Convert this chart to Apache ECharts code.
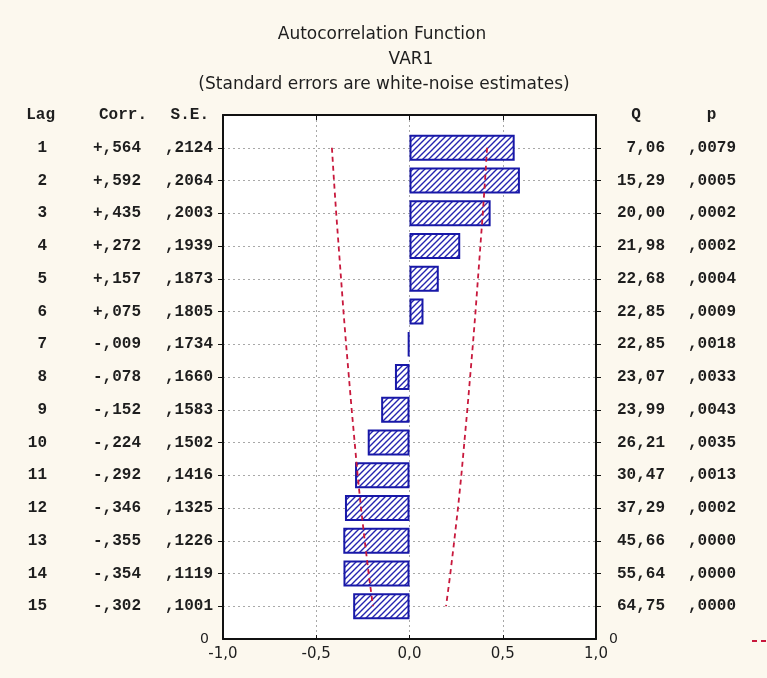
<!DOCTYPE html>
<html>
<head>
<meta charset="utf-8">
<script src="https://cdn.jsdelivr.net/npm/echarts@6/dist/echarts.min.js"></script>
<style>
  html, body { margin: 0; padding: 0; background: #fcf8ee; }
  #chart { width: 767px; height: 678px; }
</style>
</head>
<body>
<div id="chart"></div>
<script>
// Autocorrelation function of VAR1, lags 1..15
const lags = [1, 2, 3, 4, 5, 6, 7, 8, 9, 10, 11, 12, 13, 14, 15];
const corr = [0.564, 0.592, 0.435, 0.272, 0.157, 0.075, -0.009, -0.078, -0.152, -0.224, -0.292, -0.346, -0.355, -0.354, -0.302];
const corrText = ['+,564', '+,592', '+,435', '+,272', '+,157', '+,075', '-,009', '-,078', '-,152', '-,224', '-,292', '-,346', '-,355', '-,354', '-,302'];
const seText = [',2124', ',2064', ',2003', ',1939', ',1873', ',1805', ',1734', ',1660', ',1583', ',1502', ',1416', ',1325', ',1226', ',1119', ',1001'];
const qText = ['7,06', '15,29', '20,00', '21,98', '22,68', '22,85', '22,85', '23,07', '23,99', '26,21', '30,47', '37,29', '45,66', '55,64', '64,75'];
const pText = [',0079', ',0005', ',0002', ',0002', ',0004', ',0009', ',0018', ',0033', ',0043', ',0035', ',0013', ',0002', ',0000', ',0000', ',0000'];
// white-noise confidence limits (1.96 * S.E.)
const limit = [0.416, 0.405, 0.393, 0.380, 0.367, 0.354, 0.340, 0.325, 0.310, 0.294, 0.278, 0.260, 0.240, 0.219, 0.196];
const xTicks = ['-1,0', '-0,5', '0,0', '0,5', '1,0'];

// y categories: header row, lags, trailing zero row
const rows = ['hdr'].concat(lags.map(String)).concat(['end']);

// diagonal hatch fill for the bars
function hatch() {
  const s = 6;
  const c = document.createElement('canvas');
  c.width = s; c.height = s;
  const g = c.getContext('2d');
  g.fillStyle = '#ffffff';
  g.fillRect(0, 0, s, s);
  g.strokeStyle = '#2424b0';
  g.lineWidth = 1.4;
  g.beginPath();
  g.moveTo(-1, s + 1); g.lineTo(s + 1, -1);
  g.moveTo(-1, 1); g.lineTo(1, -1);
  g.moveTo(s - 1, s + 1); g.lineTo(s + 1, s - 1);
  g.stroke();
  return c;
}

const mono = '"Liberation Mono", "DejaVu Sans Mono", monospace';
const sans = '"DejaVu Sans", "Liberation Sans", sans-serif';
const ink = '#1e1e1e';
const cell = (w, a, extra) => Object.assign({ width: w, align: a, fontFamily: mono, fontWeight: 'bold', fontSize: 16, color: ink }, extra || {});

const leftRich = {
  lag: cell(40, 'right'),
  corr: cell(94, 'right'),
  se: cell(72, 'right'),
  hlag: cell(48, 'right'),
  hcorr: cell(92, 'right'),
  hse: cell(62, 'right', { padding: [0, 4, 0, 0] }),
  zero: { fontFamily: sans, fontSize: 14, color: ink, padding: [0, 4, 0, 0] }
};
const rightRich = {
  q: cell(59, 'right'),
  p: cell(71, 'right'),
  hq: cell(60, 'center'),
  hp: cell(71, 'left', { padding: [0, 0, 0, 10] }),
  zero: { fontFamily: sans, fontSize: 14, color: ink, padding: [0, 0, 0, 3] }
};

const barData = rows.map((r, i) => (i >= 1 && i <= lags.length) ? corr[i - 1] : '-');
const lowLine = lags.map((l, i) => [-limit[i], String(l)]);
const highLine = lags.map((l, i) => [limit[i], String(l)]);

const dotted = { show: true, lineStyle: { color: '#a8a8a8', type: [2, 3], width: 1 } };
const frame = { show: true, onZero: false, lineStyle: { color: '#111', width: 2 } };
const tickOn = (i) => i >= 1 && i <= lags.length;

const chart = echarts.init(document.getElementById('chart'), null, { renderer: 'canvas' });
chart.setOption({
  backgroundColor: '#fcf8ee',
  animation: false,
  title: [
    { text: 'Autocorrelation Function', left: 377, top: 21, textAlign: 'center',
      textStyle: { fontFamily: sans, fontWeight: 'normal', fontSize: 17, color: ink } },
    { text: 'VAR1', left: 406, top: 46, textAlign: 'center',
      textStyle: { fontFamily: sans, fontWeight: 'normal', fontSize: 17, color: ink } },
    { text: '(Standard errors are white-noise estimates)', left: 379, top: 71, textAlign: 'center',
      textStyle: { fontFamily: sans, fontWeight: 'normal', fontSize: 17, color: ink } }
  ],
  grid: { left: 223, right: 171, top: 115, bottom: 39, containLabel: false,
          show: true, backgroundColor: '#ffffff', borderWidth: 0 },
  xAxis: [
    { type: 'value', position: 'bottom', min: -1, max: 1, interval: 0.5,
      axisLine: frame, axisTick: { show: true, inside: true, length: 4, lineStyle: { color: '#111' } },
      splitLine: dotted,
      axisLabel: { margin: 8, fontFamily: sans, fontSize: 15, color: ink,
        formatter: (v) => xTicks[Math.round((v + 1) / 0.5)] } },
    { type: 'value', position: 'top', min: -1, max: 1, interval: 0.5,
      axisLine: frame, axisTick: { show: true, inside: true, length: 5, lineStyle: { color: '#111' } },
      splitLine: { show: false }, axisLabel: { show: false } }
  ],
  yAxis: [
    { type: 'category', position: 'left', data: rows, inverse: true, boundaryGap: false,
      axisLine: frame,
      axisTick: { show: true, inside: false, length: 5, interval: tickOn, lineStyle: { color: '#111' } },
      splitLine: Object.assign({ interval: 0 }, dotted),
      axisLabel: { interval: 0, margin: 10, align: 'right', rich: leftRich,
        formatter: (v, i) => {
          if (i === 0) return '{hlag|Lag}{hcorr|Corr.}{hse|S.E.}';
          if (i === rows.length - 1) return '{zero|0}';
          return '{lag|' + v + '}{corr|' + corrText[i - 1] + '}{se|' + seText[i - 1] + '}';
        } } },
    { type: 'category', position: 'right', data: rows, inverse: true, boundaryGap: false,
      axisLine: frame,
      axisTick: { show: true, inside: false, length: 5, interval: tickOn, lineStyle: { color: '#111' } },
      splitLine: { show: false },
      axisLabel: { interval: 0, margin: 10, align: 'left', rich: rightRich,
        formatter: (v, i) => {
          if (i === 0) return '{hq|Q}{hp|p}';
          if (i === rows.length - 1) return '{zero|0}';
          return '{q|' + qText[i - 1] + '}{p|' + pText[i - 1] + '}';
        } } }
  ],
  series: [
    { name: 'Corr.', type: 'bar', xAxisIndex: 0, yAxisIndex: 0, data: barData, barWidth: 26,
      itemStyle: { color: { image: hatch(), repeat: 'repeat' }, borderColor: '#1818a8', borderWidth: 2 },
      z: 3 },
    { name: 'Conf. limit', type: 'line', xAxisIndex: 0, yAxisIndex: 0, data: lowLine, symbol: 'none',
      lineStyle: { color: '#c8183c', width: 1.8, type: [5, 4] }, z: 4 },
    { name: 'Conf. limit +', type: 'line', xAxisIndex: 0, yAxisIndex: 0, data: highLine, symbol: 'none',
      lineStyle: { color: '#c8183c', width: 1.8, type: [5, 4] }, z: 4 }
  ],
  graphic: [
    { type: 'line', shape: { x1: 752, y1: 641, x2: 767, y2: 641 },
      style: { stroke: '#c8183c', lineWidth: 1.8, lineDash: [5, 4] } }
  ]
});
</script>
</body>
</html>
